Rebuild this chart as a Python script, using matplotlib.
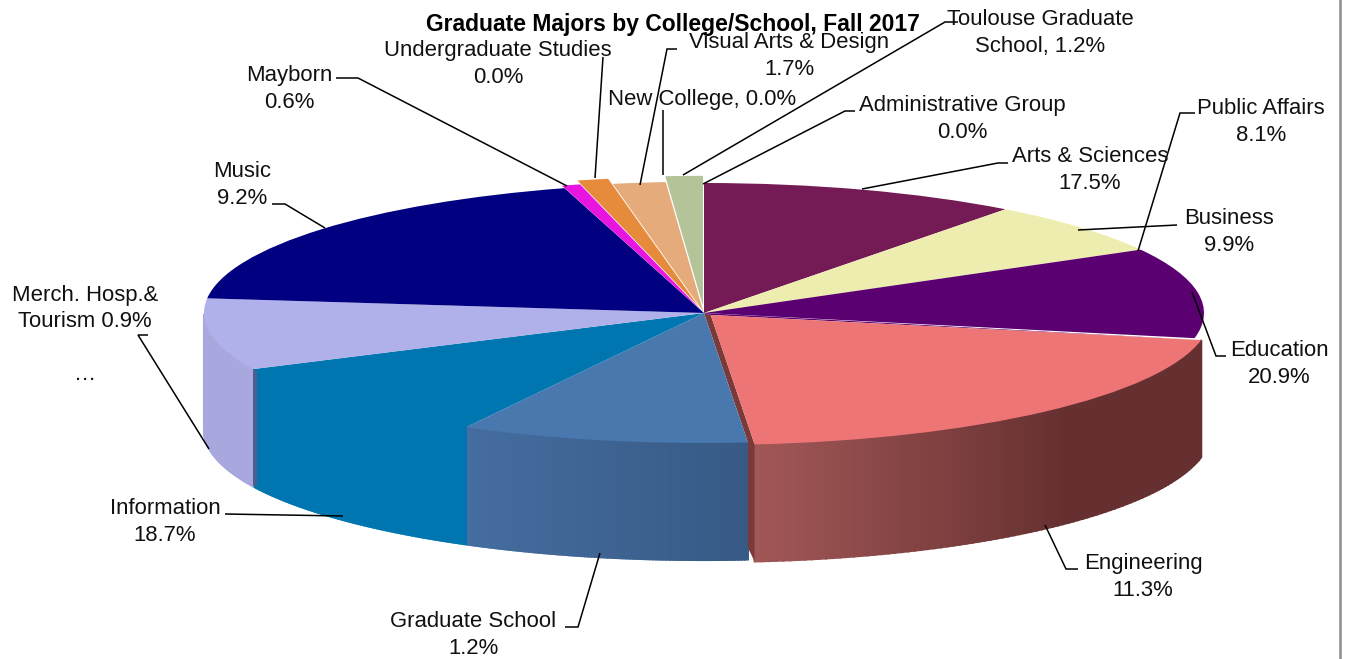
"""Graduate majors by college/school, drawn as a tilted pie with side walls."""

import matplotlib
matplotlib.use("Agg")
import matplotlib.pyplot as plt
from matplotlib.colors import to_rgb
import numpy as np

plt.rcParams["font.family"] = ["Liberation Sans", "DejaVu Sans"]

# Slice sizes as drawn, clockwise from the top (they differ from the printed labels)
slice_names = ["Maroon", "Cream", "Purple", "Salmon", "Blue", "Teal", "Lavender",
               "Navy", "Magenta", "Orange", "Tan", "Green"]
slice_sizes = [10.3, 6.6, 11.2, 20.5, 9.3, 10.0, 8.9, 18.7, 0.6, 1.0, 1.7, 1.2]

title = "Graduate Majors by College/School, Fall 2017"
labels = ["Toulouse Graduate\nSchool, 1.2%", "Undergraduate Studies\n0.0%", "Mayborn\n0.6%",
          "Visual Arts & Design\n1.7%", "New College, 0.0%", "Administrative Group\n0.0%",
          "Public Affairs\n8.1%", "Arts & Sciences\n17.5%", "Business\n9.9%",
          "Education\n20.9%", "Engineering\n11.3%", "Graduate School\n1.2%",
          "Information\n18.7%", "Merch. Hosp.&\nTourism 0.9%\n\n…", "Music\n9.2%"]

# Layout, all in image pixels
label_pos = [(1040, 33), (498, 64), (289, 89), (789, 56), (702, 99), (962, 119),
             (1261, 122), (1090, 170), (1229, 232), (1279, 364), (1143, 577),
             (473, 635), (165, 522), (85, 335), (242, 185)]
leaders = [[(958, 22), (945, 22), (683, 175)],
           [(603, 57), (595, 178)],
           [(336, 78), (358, 78), (567, 186)],
           [(677, 49), (667, 49), (640, 185)],
           [(663, 110), (663, 175)],
           [(855, 111), (845, 111), (703, 184)],
           [(1195, 113), (1180, 113), (1138, 251)],
           [(1008, 163), (998, 163), (862, 189)],
           [(1177, 225), (1078, 230)],
           [(1226, 356), (1216, 356), (1192, 292)],
           [(1078, 569), (1066, 569), (1045, 525)],
           [(565, 627), (578, 627), (600, 553)],
           [(225, 514), (343, 516)],
           [(148, 335), (138, 335), (209, 449)],
           [(272, 204), (285, 204), (325, 228)]]

top_colors = ["#741b56", "#ededb0", "#5a0070", "#ee7575", "#4878ae", "#0076b0",
              "#b0b0ea", "#000080", "#e815e0", "#e68a3c", "#e5ab7a", "#b5c398"]
wall_left = {"Salmon": "#a25757", "Blue": "#456da0", "Teal": "#0076b0", "Lavender": "#a8a8de"}
wall_right = {"Salmon": "#663030", "Blue": "#375a85", "Teal": "#0076b0", "Lavender": "#a8a8de"}
explode = [0, 0, 0, 0.02, 0, 0, 0, 0, 0.02, 0.05, 0.01, 0.055]

W, H = 1346, 659
cx, cy, rx, ry = 704, 313, 500, 130
depth = 117 / ry

fig = plt.figure(figsize=(W / 100, H / 100), dpi=100)
ax = fig.add_axes([0, 0, 1, 1])
wedges, _ = ax.pie(slice_sizes, colors=top_colors, explode=explode, startangle=90,
                   counterclock=False, wedgeprops={"linewidth": 0})
# squash the round pie into the tilted ellipse
ax.set_aspect("auto")
ax.set_xlim(-cx / rx, (W - cx) / rx)
ax.set_ylim((cy - H) / ry, cy / ry)


def edge_point(w, theta):
    t = np.deg2rad(theta)
    return w.center[0] + w.r * np.cos(t), w.center[1] + w.r * np.sin(t)


# side walls: thin strips along the front of each slice
for name, w in zip(slice_names, wedges):
    if name not in wall_left:
        continue
    th = np.linspace(w.theta1, w.theta2, 90)
    th = th[np.sin(np.deg2rad(th)) <= 0]
    xs, ys = edge_point(w, th)
    c0, c1 = np.array(to_rgb(wall_left[name])), np.array(to_rgb(wall_right[name]))
    for i in range(len(xs) - 1):
        frac = (xs[i] - xs.min()) / (xs.max() - xs.min())
        if name == "Salmon":
            frac = min(frac / 0.7, 1)
        ax.fill([xs[i], xs[i + 1], xs[i + 1], xs[i]],
                [ys[i], ys[i + 1], ys[i + 1] - depth, ys[i] - depth],
                color=c0 + (c1 - c0) * frac, lw=1.5, zorder=0.5)

# cut faces beside the exploded salmon slice and on the teal slice
sal = wedges[slice_names.index("Salmon")]
blu = wedges[slice_names.index("Blue")]
pur = wedges[slice_names.index("Purple")]
sx, sy = edge_point(sal, sal.theta1)
bx, by = edge_point(blu, blu.theta2)
ax.fill([0, sal.center[0], sx, sx, bx, bx], [0, sal.center[1], sy, sy - depth, by - depth * 0.9, by],
        color="#7a3a3a", lw=0, zorder=0.7)
px, py = edge_point(sal, sal.theta2)
ax.fill([0, sal.center[0], px], [0, sal.center[1], py], color=pur.get_facecolor(), lw=0, zorder=0.7)
tea = wedges[slice_names.index("Teal")]
tx, ty = edge_point(tea, tea.theta1)
strip = 4 / rx
ax.fill([tx, tx + strip, tx + strip, tx], [ty, ty, ty - depth, ty - depth],
        color="#4a5f8f", lw=0, zorder=0.8)

# overlay in image pixels for the text and leader lines
ov = fig.add_axes([0, 0, 1, 1])
ov.set_xlim(0, W)
ov.set_ylim(H, 0)
ov.axis("off")
ov.patch.set_alpha(0)

for path in leaders:
    ov.plot([p[0] for p in path], [p[1] for p in path], color="black", lw=1.1,
            solid_capstyle="butt", solid_joinstyle="miter")
for text, (x, y) in zip(labels, label_pos):
    ov.text(x, y, text, ha="center", va="center", fontsize=15.9, color="#111111",
            linespacing=1.35, multialignment="center")
ov.text(673, 25, title, ha="center", va="center", fontsize=16.5, fontweight="bold", color="black")

# grey frame edge on the right
ov.plot([1340, 1340], [0, H], color="#8c8c8c", lw=1.8)

fig.savefig("out.png", dpi=100)
plt.close(fig)
